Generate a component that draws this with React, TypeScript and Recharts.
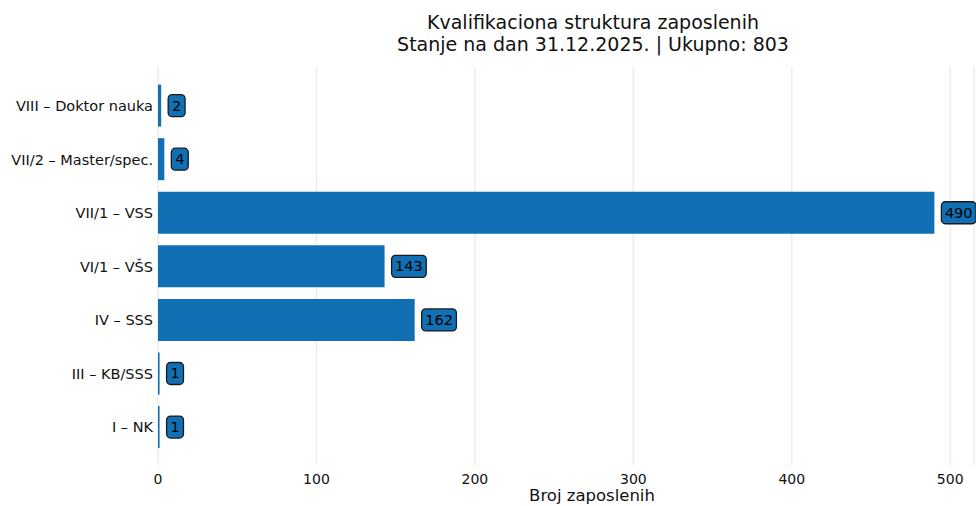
import React from "react";
import { BarChart, Bar, XAxis, YAxis, CartesianGrid, LabelList } from "recharts";

const categories = [
  "VIII – Doktor nauka",
  "VII/2 – Master/spec.",
  "VII/1 – VSS",
  "VI/1 – VŠS",
  "IV – SSS",
  "III – KB/SSS",
  "I – NK",
];
const counts = [2, 4, 490, 143, 162, 1, 1];
const xTicks = [0, 100, 200, 300, 400, 500];
const titleLine1 = "Kvalifikaciona struktura zaposlenih";
const titleLine2 = "Stanje na dan 31.12.2025. | Ukupno: 803";
const xLabel = "Broj zaposlenih";

const data = categories.map((c, i) => ({ name: c, value: counts[i] }));

const BAR = "#1170B4";
const FONT = "DejaVu Sans, sans-serif";

const ValueLabel = (props: any) => {
  const { x, y, width, height, value } = props;
  const s = String(value);
  const w = 8 + 8.9 * s.length;
  const h = 22;
  const bx = x + width + 7;
  const cy = y + height / 2;
  return (
    <g>
      <rect x={bx} y={cy - h / 2} width={w} height={h} rx={4} ry={4} fill={BAR} stroke="#1a1a1a" strokeWidth={1.3} />
      <text x={bx + w / 2} y={cy + 1} textAnchor="middle" dominantBaseline="middle" fontSize={14.5} fill="#000" fontFamily={FONT}>
        {s}
      </text>
    </g>
  );
};

export default function App() {
  return (
    <div style={{ position: "absolute", left: 0, top: 0, width: 976, height: 506, background: "#fff", fontFamily: FONT }}>
      <div style={{ position: "absolute", left: 0, width: 1186, top: 11, textAlign: "center", fontSize: 19, lineHeight: "22px", color: "#111" }}>
        <div>{titleLine1}</div>
        <div>{titleLine2}</div>
      </div>
      <BarChart
        width={976}
        height={506}
        data={data}
        layout="vertical"
        margin={{ top: 67, right: 2, bottom: 0, left: 0 }}
        barCategoryGap="10.5%"
      >
        <CartesianGrid horizontal={false} vertical={true} stroke="#ececec" strokeWidth={1.5} />
        <XAxis
          type="number"
          domain={[0, 515]}
          ticks={xTicks}
          height={41}
          axisLine={false}
          tickLine={false}
          tickSize={0}
          tickMargin={9}
          tick={{ fontSize: 14, fill: "#111", fontFamily: FONT }}
          interval={0}
        />
        <YAxis
          type="category"
          dataKey="name"
          width={158}
          axisLine={false}
          tickLine={false}
          tickSize={0}
          tickMargin={5}
          padding={{ top: 12, bottom: 11 }}
          tick={{ fontSize: 14.5, fill: "#111", fontFamily: FONT }}
          interval={0}
        />
        <Bar dataKey="value" fill={BAR} isAnimationActive={false}>
          <LabelList dataKey="value" content={<ValueLabel />} />
        </Bar>
      </BarChart>
      <div style={{ position: "absolute", left: 0, width: 1184, top: 486, textAlign: "center", fontSize: 16.5, color: "#111" }}>
        {xLabel}
      </div>
    </div>
  );
}
